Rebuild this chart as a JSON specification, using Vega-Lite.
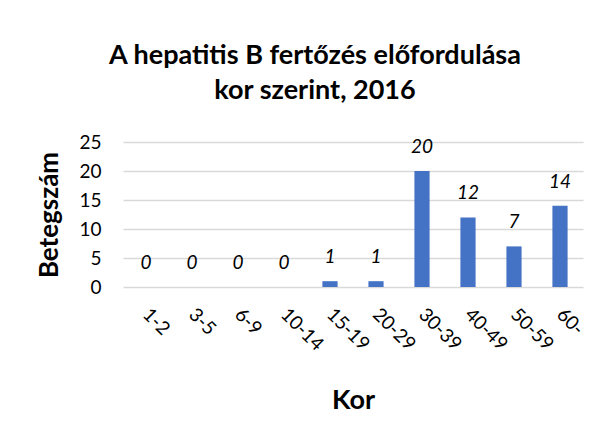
{
  "$schema": "https://vega.github.io/schema/vega-lite/v6.json",
  "width": 460,
  "height": 145,
  "autosize": {"type": "none"},
  "padding": {"left": 123, "top": 142, "right": 19, "bottom": 136},
  "background": "white",
  "title": {
    "text": ["A hepatitis B fertőzés előfordulása", "kor szerint, 2016"],
    "font": "Lato",
    "fontSize": 27,
    "fontWeight": "bold",
    "color": "#000000",
    "lineHeight": 35,
    "anchor": "middle",
    "dx": -38,
    "offset": 28
  },
  "config": {
    "view": {"stroke": null},
    "font": "Lato"
  },
  "data": {
    "values": [
      {"kor": "1-2", "n": 0},
      {"kor": "3-5", "n": 0},
      {"kor": "6-9", "n": 0},
      {"kor": "10-14", "n": 0},
      {"kor": "15-19", "n": 1},
      {"kor": "20-29", "n": 1},
      {"kor": "30-39", "n": 20},
      {"kor": "40-49", "n": 12},
      {"kor": "50-59", "n": 7},
      {"kor": "60-", "n": 14}
    ]
  },
  "encoding": {
    "x": {
      "field": "kor",
      "type": "nominal",
      "sort": null,
      "scale": {"paddingInner": 0.67, "paddingOuter": 0.335},
      "axis": {
        "title": "Kor",
        "titleFont": "Lato",
        "titleFontSize": 27,
        "titleFontWeight": "bold",
        "titleColor": "#000000",
        "titlePadding": 33,
        "labelAngle": 45,
        "labelAlign": "left",
        "labelBaseline": "middle",
        "labelFontSize": 19,
        "labelColor": "#000000",
        "labelPadding": 24,
        "ticks": false,
        "domain": false,
        "grid": false
      }
    },
    "y": {
      "field": "n",
      "type": "quantitative",
      "scale": {"domain": [0, 25], "nice": false},
      "axis": {
        "title": "Betegszám",
        "titleFont": "Lato",
        "titleFontSize": 26,
        "titleFontWeight": "bold",
        "titleColor": "#000000",
        "titlePadding": 16,
        "values": [0, 5, 10, 15, 20, 25],
        "labelFontSize": 19,
        "labelColor": "#000000",
        "labelPadding": 22,
        "ticks": false,
        "domain": false,
        "grid": true,
        "gridColor": "#d9d9d9",
        "gridWidth": 1.3
      }
    }
  },
  "layer": [
    {"mark": {"type": "bar", "color": "#4472c4"}},
    {
      "mark": {
        "type": "text",
        "fontStyle": "italic",
        "fontSize": 19,
        "color": "#000000",
        "baseline": "middle",
        "dy": -24
      },
      "encoding": {"text": {"field": "n", "type": "quantitative"}}
    }
  ]
}
